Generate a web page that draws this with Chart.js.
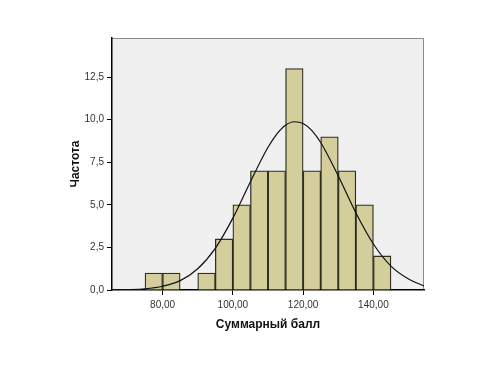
<!DOCTYPE html>
<html>
<head>
<meta charset="utf-8">
<script src="https://cdn.jsdelivr.net/npm/chart.js@4"></script>
<style>
html,body{margin:0;padding:0;background:#fff;}
#wrap{width:500px;height:374px;position:relative;}
</style>
</head>
<body>
<div id="wrap"><canvas id="c" width="500" height="374"></canvas></div>
<script>
// Histogram bins (centres, width 5) and frequencies
const binCenters = [77.5, 82.5, 92.5, 97.5, 102.5, 107.5, 112.5, 117.5, 122.5, 127.5, 132.5, 137.5, 142.5];
const frequencies = [1, 1, 1, 3, 5, 7, 7, 13, 7, 9, 7, 5, 2];
// Normal curve
const curveX = [66, 70, 75, 80, 85, 90, 95, 100, 105, 110, 112.5, 115, 117.5, 120, 122.5, 125, 130, 135, 140, 145, 150, 154.4];
const curveY = [0.01, 0.02, 0.07, 0.22, 0.55, 1.25, 2.45, 4.22, 6.36, 8.38, 9.16, 9.68, 9.88, 9.78, 9.36, 8.66, 6.70, 4.54, 2.70, 1.40, 0.64, 0.24];
const xTicks = [80, 100, 120, 140];
const yTicks = [0, 2.5, 5, 7.5, 10, 12.5];
const xTitle = 'Суммарный балл';
const yTitle = 'Частота';

const fmt = (v, d) => v.toFixed(d).replace('.', ',');

const plotBg = {
  id: 'plotBg',
  beforeDraw(chart) {
    const {ctx, chartArea: a} = chart;
    ctx.save();
    ctx.fillStyle = '#f0f0f0';
    ctx.fillRect(a.left, a.top, a.right - a.left, a.bottom - a.top);
    ctx.strokeStyle = '#8c8c8c';
    ctx.lineWidth = 1;
    ctx.beginPath();
    ctx.moveTo(a.left, a.top + 0.5);
    ctx.lineTo(a.right - 0.5, a.top + 0.5);
    ctx.lineTo(a.right - 0.5, a.bottom);
    ctx.stroke();
    ctx.restore();
  }
};

new Chart(document.getElementById('c'), {
  type: 'bar',
  data: {
    datasets: [
      {
        type: 'line',
        data: curveX.map((x, i) => ({x, y: curveY[i]})),
        borderColor: '#111',
        borderWidth: 1.2,
        pointRadius: 0,
        fill: false,
        cubicInterpolationMode: 'monotone',
        order: 0
      },
      {
        type: 'bar',
        data: binCenters.map((x, i) => ({x, y: frequencies[i]})),
        backgroundColor: '#d3ce9c',
        borderColor: '#2e2e22',
        borderWidth: 1.3,
        barPercentage: 1,
        categoryPercentage: 1,
        grouped: false,
        order: 1
      }
    ]
  },
  options: {
    responsive: false,
    animation: false,
    layout: {padding: {left: 0, top: 38, right: 76, bottom: 0}},
    plugins: {legend: {display: false}, tooltip: {enabled: false}},
    scales: {
      x: {
        type: 'linear',
        offset: false,
        min: 65.6,
        max: 154.4,
        afterBuildTicks: s => { s.ticks = xTicks.map(v => ({value: v})); },
        afterFit: s => { s.height = 84; },
        ticks: {
          callback: v => fmt(v, 2),
          color: '#333',
          font: {family: 'Liberation Sans, Arial', size: 10},
          padding: 4,
          maxRotation: 0
        },
        grid: {offset: false, drawOnChartArea: false, drawTicks: true, tickLength: 5, color: '#000', lineWidth: 1},
        border: {color: '#000', width: 1.5},
        title: {
          display: true,
          text: xTitle,
          color: '#111',
          font: {family: 'Liberation Sans, Arial', size: 12, weight: 'bold'},
          padding: {top: 0, bottom: 42}
        }
      },
      y: {
        type: 'linear',
        min: 0,
        max: 14.8,
        afterBuildTicks: s => { s.ticks = yTicks.map(v => ({value: v})); },
        afterFit: s => { s.width = 112; },
        ticks: {
          callback: v => fmt(v, 1),
          color: '#333',
          font: {family: 'Liberation Sans, Arial', size: 10},
          padding: 3
        },
        grid: {drawOnChartArea: false, drawTicks: true, tickLength: 5, color: '#000', lineWidth: 1},
        border: {color: '#000', width: 1.5},
        title: {
          display: true,
          text: yTitle,
          color: '#111',
          font: {family: 'Liberation Sans, Arial', size: 12, weight: 'bold'},
          padding: {top: 68, bottom: 0}
        }
      }
    }
  },
  plugins: [plotBg]
});
</script>
</body>
</html>
